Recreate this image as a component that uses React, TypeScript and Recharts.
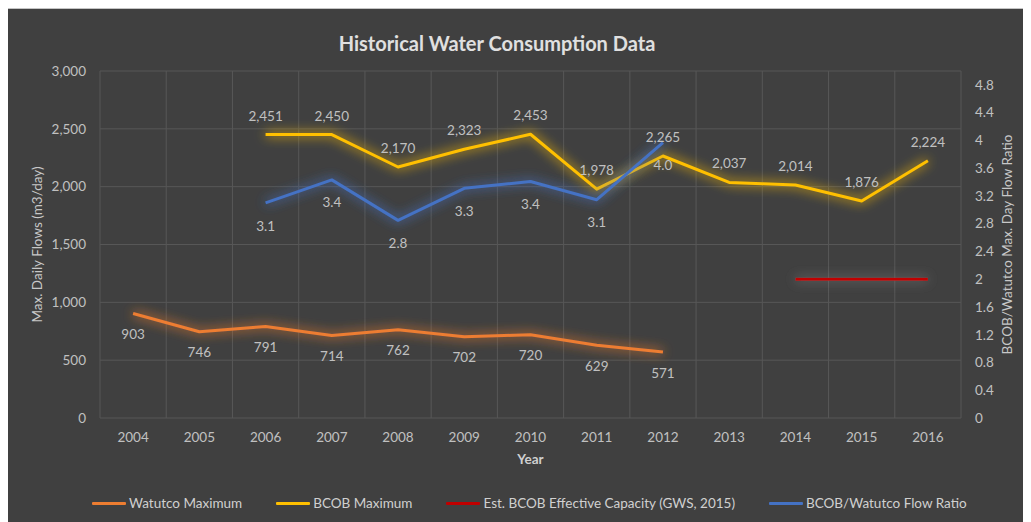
import React from 'react';
import {
  LineChart,
  Line,
  XAxis,
  YAxis,
  CartesianGrid,
  Legend,
  LabelList,
} from 'recharts';

const years = ['2004', '2005', '2006', '2007', '2008', '2009', '2010', '2011', '2012', '2013', '2014', '2015', '2016'];
const watutcoMax = [903, 746, 791, 714, 762, 702, 720, 629, 571, null, null, null, null];
const bcobMax = [null, null, 2451, 2450, 2170, 2323, 2453, 1978, 2265, 2037, 2014, 1876, 2224];
const bcobCapacity = [null, null, null, null, null, null, null, null, null, null, 2, 2, 2];
const flowRatio = [null, null, 3.099, 3.431, 2.848, 3.309, 3.407, 3.145, 3.967, null, null, null, null];

const flowTicks = [0, 500, 1000, 1500, 2000, 2500, 3000];
const ratioTicks = [0, 0.4, 0.8, 1.2, 1.6, 2, 2.4, 2.8, 3.2, 3.6, 4, 4.4, 4.8];

const series = [
  { key: 'watutco', name: 'Watutco Maximum', color: '#ED7D31' },
  { key: 'bcob', name: 'BCOB Maximum', color: '#FFC000' },
  { key: 'capacity', name: 'Est. BCOB Effective Capacity (GWS, 2015)', color: '#C00000' },
  { key: 'ratio', name: 'BCOB/Watutco Flow Ratio', color: '#4472C4' },
];

const data = years.map((year, i) => ({
  year,
  watutco: watutcoMax[i],
  bcob: bcobMax[i],
  capacity: bcobCapacity[i],
  ratio: flowRatio[i],
}));

const FONT = 'Lato, "Open Sans", sans-serif';
const TEXT = '#c0c0c0';
const GRID = '#575757';

const withComma = (v: any) => (v == null ? '' : Number(v).toLocaleString('en-US'));
const oneDecimal = (v: any) => (v == null ? '' : Number(v).toFixed(1));

const ChartLegend = () => (
  <div style={{ display: 'flex', alignItems: 'center', gap: 34, fontFamily: FONT, fontSize: 13.5, color: '#d0d0d0' }}>
    {series.map((s) => (
      <div key={s.key} style={{ display: 'flex', alignItems: 'center', gap: 3 }}>
        <div style={{ width: 34, height: 3, background: s.color, borderRadius: 1 }} />
        <span>{s.name}</span>
      </div>
    ))}
  </div>
);

export default function App() {
  return (
    <div
      style={{
        position: 'relative',
        width: 1023,
        height: 513,
        marginLeft: -1,
        background: '#404040',
        borderTop: '1px solid #c4c4c4',
        borderLeft: '1px solid #c4c4c4',
        fontFamily: FONT,
      }}
    >
      <div
        style={{
          position: 'absolute',
          top: 22,
          left: 0,
          width: 978,
          textAlign: 'center',
          fontSize: 20,
          fontWeight: 700,
          color: '#e0e0e0',
        }}
      >
        Historical Water Consumption Data
      </div>
      <LineChart width={1023} height={513} data={data} margin={{ top: 62, right: 0, bottom: 68, left: 0 }}>
        <defs>
          <filter id="glow" filterUnits="userSpaceOnUse" x="0" y="0" width="1100" height="600">
            <feGaussianBlur in="SourceGraphic" stdDeviation="6" result="blur" />
            <feComponentTransfer in="blur" result="soft">
              <feFuncA type="linear" slope="1.3" />
            </feComponentTransfer>
            <feMerge>
              <feMergeNode in="soft" />
              <feMergeNode in="SourceGraphic" />
            </feMerge>
          </filter>
          <filter id="glowGray" filterUnits="userSpaceOnUse" x="0" y="0" width="1100" height="600">
            <feGaussianBlur in="SourceAlpha" stdDeviation="6" result="blur" />
            <feFlood floodColor="#8a8a8a" floodOpacity="0.9" result="flood" />
            <feComposite in="flood" in2="blur" operator="in" result="halo" />
            <feMerge>
              <feMergeNode in="halo" />
              <feMergeNode in="SourceGraphic" />
            </feMerge>
          </filter>
        </defs>
        <CartesianGrid
          stroke={GRID}
          strokeWidth={1}
          verticalCoordinatesGenerator={({ offset }: any) =>
            Array.from({ length: years.length + 1 }, (_, i) => offset.left + (i * offset.width) / years.length)
          }
        />
        <XAxis
          dataKey="year"
          scale="band"
          height={36}
          tickSize={0}
          tickMargin={14}
          axisLine={false}
          tick={{ fill: TEXT, fontSize: 13.5, fontFamily: FONT }}
          label={{ value: 'Year', position: 'bottom', offset: 0, fill: '#d0d0d0', fontSize: 13.5, fontWeight: 700, fontFamily: FONT }}
        />
        <YAxis
          width={92}
          domain={[0, 3000]}
          ticks={flowTicks}
          tickFormatter={withComma}
          tickSize={0}
          tickMargin={14}
          axisLine={false}
          tick={{ fill: TEXT, fontSize: 13.5, fontFamily: FONT }}
          label={{
            value: 'Max. Daily Flows (m3/day)',
            angle: -90,
            position: 'insideLeft',
            offset: 29,
            fill: '#c8c8c8',
            fontSize: 13.5,
            fontFamily: FONT,
            style: { textAnchor: 'middle' },
          }}
        />
        <YAxis
          yAxisId="right"
          orientation="right"
          width={70}
          domain={[0, 5]}
          ticks={ratioTicks}
          tickSize={0}
          tickMargin={14}
          axisLine={false}
          tick={{ fill: TEXT, fontSize: 13.5, fontFamily: FONT, textAnchor: 'start' }}
          label={{
            value: 'BCOB/Watutco Max. Day Flow Ratio',
            angle: -90,
            position: 'insideRight',
            offset: 24,
            fill: '#c8c8c8',
            fontSize: 13.5,
            fontFamily: FONT,
            style: { textAnchor: 'middle' },
          }}
        />
        <Legend
          layout="vertical"
          align="center"
          verticalAlign="middle"
          wrapperStyle={{ position: 'absolute', left: 84, top: 486, width: 'auto' }}
          content={<ChartLegend />}
        />
        <Line
          name="Watutco Maximum"
          dataKey="watutco"
          stroke="#ED7D31"
          strokeWidth={3}
          dot={false}
          activeDot={false}
          filter="url(#glow)"
          strokeLinejoin="round"
          isAnimationActive={false}
        >
          <LabelList dataKey="watutco" position="bottom" offset={16} formatter={withComma} fill={TEXT} fontSize={13.5} fontFamily={FONT} />
        </Line>
        <Line
          name="BCOB Maximum"
          dataKey="bcob"
          stroke="#FFC000"
          strokeWidth={3}
          dot={false}
          activeDot={false}
          filter="url(#glow)"
          strokeLinejoin="round"
          isAnimationActive={false}
        >
          <LabelList dataKey="bcob" position="top" offset={14} formatter={withComma} fill={TEXT} fontSize={13.5} fontFamily={FONT} />
        </Line>
        <Line
          name="Est. BCOB Effective Capacity (GWS, 2015)"
          dataKey="capacity"
          yAxisId="right"
          stroke="#C00000"
          strokeWidth={3}
          dot={false}
          activeDot={false}
          filter="url(#glowGray)"
          isAnimationActive={false}
        />
        <Line
          name="BCOB/Watutco Flow Ratio"
          dataKey="ratio"
          yAxisId="right"
          stroke="#4472C4"
          strokeWidth={3}
          dot={false}
          activeDot={false}
          filter="url(#glow)"
          strokeLinejoin="round"
          isAnimationActive={false}
        >
          <LabelList dataKey="ratio" position="bottom" offset={18} formatter={oneDecimal} fill={TEXT} fontSize={13.5} fontFamily={FONT} />
        </Line>
      </LineChart>
    </div>
  );
}
